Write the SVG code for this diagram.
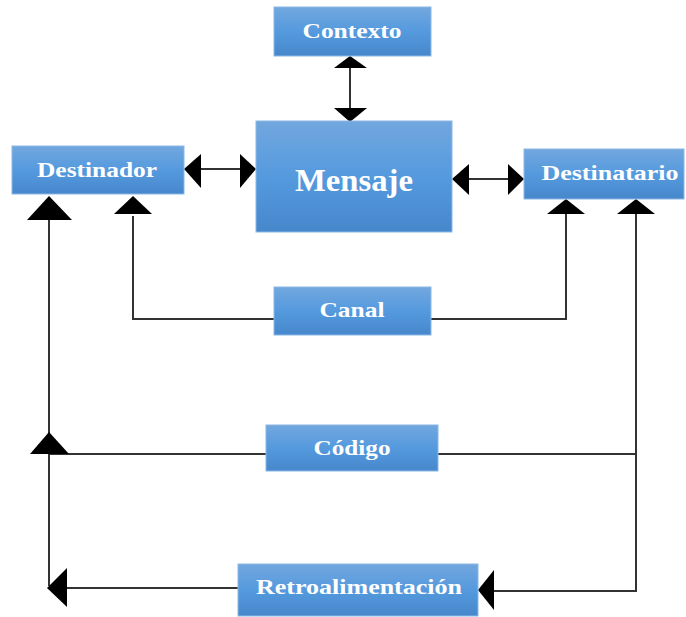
<svg xmlns="http://www.w3.org/2000/svg" width="686" height="617" viewBox="0 0 686 617">
<style>
.box{fill:url(#g);stroke:#8cb8e6;stroke-width:1}
.lbl{font-family:"Liberation Serif","Times New Roman",serif;font-weight:bold;fill:#ffffff;text-anchor:middle;dominant-baseline:central;font-size:21px}
.big{font-size:32px}
.ln{stroke:#333;stroke-width:2;fill:none}
.hd{fill:#000}
</style>
<defs>
<linearGradient id="g" x1="0" y1="0" x2="0" y2="1">
<stop offset="0" stop-color="#72a7de"/>
<stop offset="0.5" stop-color="#559ade"/>
<stop offset="1" stop-color="#4787cc"/>
</linearGradient>
</defs>
<g id="connectors">
<line class="ln" x1="350" y1="66" x2="350" y2="110"/>
<polygon class="hd" points="350,56 334,68 367,68"/>
<polygon class="hd" points="350,122 334,108 367,108"/>
<line class="ln" x1="198" y1="169" x2="243" y2="169"/>
<polygon class="hd" points="184,169 201,154 201,188"/>
<polygon class="hd" points="256,169 240,154 240,188"/>
<line class="ln" x1="466" y1="179" x2="511" y2="179"/>
<polygon class="hd" points="452,179 469,164 469,195"/>
<polygon class="hd" points="524,179 508,164 508,195"/>
<polyline class="ln" points="133,216 133,319 274,319"/>
<polygon class="hd" points="133,196 114,214 152,214"/>
<polyline class="ln" points="431,319 566,319 566,212"/>
<polygon class="hd" points="566,199 547,214 585,214"/>
<line class="ln" x1="49" y1="218" x2="49" y2="586"/>
<polygon class="hd" points="49,196 27,220 72,220"/>
<line class="ln" x1="49" y1="454" x2="266" y2="454"/>
<polygon class="hd" points="49,432 30,454 69,454"/>
<polyline class="ln" points="438,454 636,454"/>
<polyline class="ln" points="636,212 636,591 492,591"/>
<polygon class="hd" points="636,199 617,214 655,214"/>
<polygon class="hd" points="478,590 494,570 494,610"/>
<line class="ln" x1="62" y1="588" x2="238" y2="588"/>
<polygon class="hd" points="47,588 67,568 67,607"/>
</g>
<g id="contexto"><rect class="box" x="274" y="7" width="157" height="49"/><text class="lbl" x="352" y="31" textLength="99" lengthAdjust="spacingAndGlyphs">Contexto</text></g>
<g id="mensaje"><rect class="box" x="256" y="121" width="196" height="111"/><text class="lbl big" x="354" y="180" textLength="118" lengthAdjust="spacingAndGlyphs">Mensaje</text></g>
<g id="destinador"><rect class="box" x="12" y="146" width="172" height="48"/><text class="lbl" x="97" y="170" textLength="120" lengthAdjust="spacingAndGlyphs">Destinador</text></g>
<g id="destinatario"><rect class="box" x="524" y="149" width="160" height="50"/><text class="lbl" x="610" y="173" textLength="137" lengthAdjust="spacingAndGlyphs">Destinatario</text></g>
<g id="canal"><rect class="box" x="274" y="287" width="157" height="48"/><text class="lbl" x="352" y="310" textLength="65" lengthAdjust="spacingAndGlyphs">Canal</text></g>
<g id="codigo"><rect class="box" x="266" y="425" width="172" height="46"/><text class="lbl" x="352" y="448" textLength="77" lengthAdjust="spacingAndGlyphs">Código</text></g>
<g id="retroalimentacion"><rect class="box" x="238" y="564" width="240" height="52"/><text class="lbl" x="359" y="587" textLength="206" lengthAdjust="spacingAndGlyphs">Retroalimentación</text></g>
</svg>
